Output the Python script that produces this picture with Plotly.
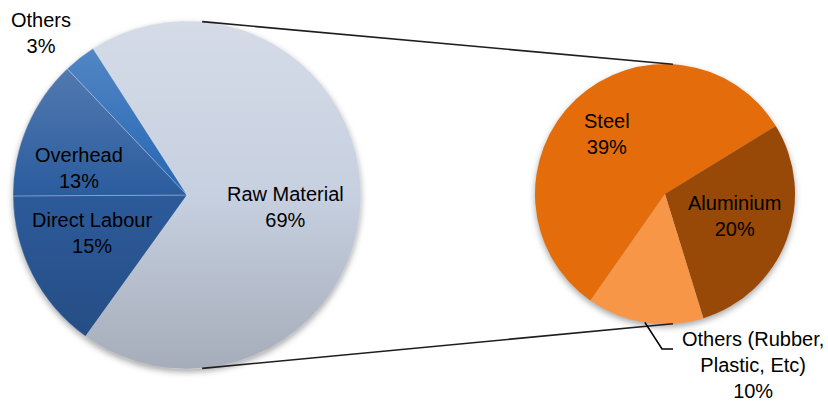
import base64
import math

import plotly.graph_objects as go

# ---- data -------------------------------------------------------------
cost_labels = ["Raw Material", "Direct Labour", "Overhead", "Others"]
cost_values = [69, 15, 13, 3]

material_labels = ["Steel", "Aluminium", "Others (Rubber, Plastic, Etc)"]
material_values = [39, 20, 10]

# ---- styling ----------------------------------------------------------
W, H = 828, 401
FONT = "Liberation Sans, Arial, sans-serif"
FONT_SIZE = 20

cost_colors = ["#c7d0e0", "#2c5a9a", "#2b5c9e", "#2466b4"]
material_colors = ["#e46c0a", "#984807", "#f79646"]

# pie centres / radii in pixels, and start angles (clockwise from 12 o'clock)
L_CX, L_CY, L_R, L_ROT = 187, 195, 174, -32.7
R_CX, R_CY, R_R, R_ROT = 665, 194, 130, -145.0


def px(x):
    return x / W


def py(y):
    return 1 - y / H


def domain(cx, cy, r):
    return dict(x=[px(cx - r), px(cx + r)], y=[py(cy + r), py(cy - r)])


def edge_point(cx, cy, r, angle_deg):
    a = math.radians(angle_deg)
    return cx + r * math.sin(a), cy - r * math.cos(a)


def svg_uri(svg):
    return "data:image/svg+xml;base64," + base64.b64encode(svg.encode()).decode()


fig = go.Figure()

fig.add_trace(go.Pie(
    labels=cost_labels, values=cost_values, sort=False, direction="clockwise",
    rotation=L_ROT, domain=domain(L_CX, L_CY, L_R), textinfo="none",
    marker=dict(colors=cost_colors, line=dict(color="rgba(255,255,255,0.35)", width=0.8)),
    showlegend=False, hoverinfo="label+percent",
))

fig.add_trace(go.Pie(
    labels=material_labels, values=material_values, sort=False, direction="clockwise",
    rotation=R_ROT, domain=domain(R_CX, R_CY, R_R), textinfo="none",
    marker=dict(colors=material_colors, line=dict(width=0)),
    showlegend=False, hoverinfo="label+value",
))

# vertical shading over the cost pie
shade = (
    f"<svg xmlns='http://www.w3.org/2000/svg' width='{2*L_R}' height='{2*L_R}' "
    f"viewBox='0 0 {2*L_R} {2*L_R}'><defs><linearGradient id='g' x1='0' y1='0' x2='0' y2='1'>"
    "<stop offset='0' stop-color='#fff' stop-opacity='0.25'/>"
    "<stop offset='0.5' stop-color='#fff' stop-opacity='0'/>"
    "<stop offset='0.5' stop-color='#000' stop-opacity='0'/>"
    "<stop offset='1' stop-color='#000' stop-opacity='0.17'/>"
    f"</linearGradient></defs><circle cx='{L_R}' cy='{L_R}' r='{L_R}' fill='url(#g)'/></svg>"
)


def shadow_svg(r, pad=12, dy=3):
    s = 2 * (r + pad)
    return (
        f"<svg xmlns='http://www.w3.org/2000/svg' width='{s}' height='{s}' viewBox='0 0 {s} {s}'>"
        "<defs><filter id='b' x='-20%' y='-20%' width='140%' height='140%'>"
        "<feGaussianBlur stdDeviation='3'/></filter></defs>"
        f"<circle cx='{r+pad}' cy='{r+pad+dy}' r='{r}' fill='#000' fill-opacity='0.35' filter='url(#b)'/></svg>"
    )


images = []
for cx, cy, r in [(L_CX, L_CY, L_R), (R_CX, R_CY, R_R)]:
    pad = 12
    images.append(dict(
        source=svg_uri(shadow_svg(r, pad)), xref="paper", yref="paper",
        x=px(cx - r - pad), y=py(cy - r - pad),
        sizex=(2 * (r + pad)) / W, sizey=(2 * (r + pad)) / H,
        sizing="stretch", xanchor="left", yanchor="top", layer="below",
    ))
images.append(dict(
    source=svg_uri(shade), xref="paper", yref="paper",
    x=px(L_CX - L_R), y=py(L_CY - L_R), sizex=2 * L_R / W, sizey=2 * L_R / H,
    sizing="stretch", xanchor="left", yanchor="top", layer="above", opacity=1,
))

# connector lines between the two pies
shapes = []
for la, ra in [(5, 3.5), (175, 176.5)]:
    x0, y0 = edge_point(L_CX, L_CY, L_R, la)
    x1, y1 = edge_point(R_CX, R_CY, R_R, ra)
    shapes.append(dict(type="line", xref="paper", yref="paper",
                       x0=px(x0), y0=py(y0), x1=px(x1), y1=py(y1),
                       line=dict(color="#1e1e1e", width=1.6)))

# leader for the small material slice label
tot = sum(material_values)
mid_others = R_ROT + 360 * (sum(material_values[:2]) + material_values[2] / 2) / tot
lx0, ly0 = edge_point(R_CX, R_CY, R_R, mid_others)
shapes.append(dict(
    type="path", xref="paper", yref="paper",
    path=f"M {px(lx0)},{py(ly0)} L {px(662)},{py(349)} L {px(673)},{py(349)}",
    line=dict(color="#000", width=1.6),
))

# slice labels
cost_label_pos = {
    "Raw Material": (285, 207),
    "Direct Labour": (92, 233),
    "Overhead": (79, 168),
    "Others": (41, 33),
}
material_label_pos = {
    "Steel": (607, 134),
    "Aluminium": (734, 216),
    "Others (Rubber, Plastic, Etc)": (753, 365),
}

annotations = []
for lab, val in zip(cost_labels, cost_values):
    x, y = cost_label_pos[lab]
    annotations.append(dict(x=px(x), y=py(y), xref="paper", yref="paper",
                            text=f"{lab}<br>{val}%", showarrow=False,
                            xanchor="center", yanchor="middle", align="center"))
for lab, val in zip(material_labels, material_values):
    x, y = material_label_pos[lab]
    annotations.append(dict(x=px(x), y=py(y), xref="paper", yref="paper",
                            text=f"{lab.replace(', P', ',<br>P')}<br>{val}%", showarrow=False,
                            xanchor="center", yanchor="middle", align="center"))

fig.update_layout(
    width=W, height=H, margin=dict(l=0, r=0, t=0, b=0),
    paper_bgcolor="white", plot_bgcolor="white",
    font=dict(family=FONT, size=FONT_SIZE, color="#000"),
    shapes=shapes, images=images, annotations=annotations,
)

fig.write_html("out.html")
